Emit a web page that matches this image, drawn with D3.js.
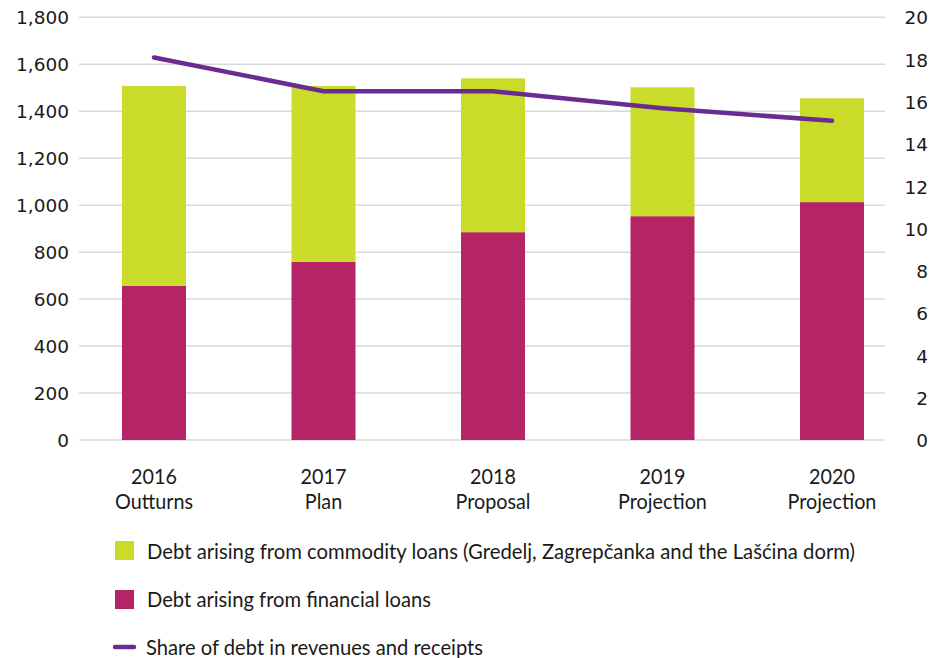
<!DOCTYPE html>
<html><head><meta charset="utf-8">
<script src="https://cdn.jsdelivr.net/npm/d3@7"></script>
<style>body{margin:0;background:#fff}svg{display:block}</style>
</head><body>
<svg id="c" width="935" height="658"></svg>
<script>
const years = ["2016","2017","2018","2019","2020"];
const phases = ["Outturns","Plan","Proposal","Projection","Projection"];
const financial = [657, 759, 885, 953, 1013];
const commodity = [851, 749, 655, 549, 442];
const share = [18.1, 16.5, 16.5, 15.7, 15.1];
const leftTicks = [0,200,400,600,800,1000,1200,1400,1600,1800];
const rightTicks = [0,2,4,6,8,10,12,14,16,18,20];
const legendLabels = [
  "Debt arising from commodity loans (Gredelj, Zagrepčanka and the Lašćina dorm)",
  "Debt arising from financial loans",
  "Share of debt in revenues and receipts"
];
const colors = {commodity:"#cbdb2a", financial:"#b52466", line:"#6a2c90", grid:"#d9d9d9", text:"#1a1a1a"};

const svg = d3.select("#c");
const x = d3.scaleBand().domain(years).range([69.25, 916.75]).paddingInner(0.6224).paddingOuter(0.3112);
const yL = d3.scaleLinear().domain([0,1800]).range([440, 17.3]);
const yR = d3.scaleLinear().domain([0,20]).range([440, 17.3]);

// gridlines
svg.append("g").selectAll("line").data(leftTicks).join("line")
  .attr("x1",79).attr("x2",885).attr("y1",d=>yL(d)).attr("y2",d=>yL(d))
  .attr("stroke",colors.grid).attr("stroke-width",1.5);

// left axis
const axL = svg.append("g").attr("transform","translate(69,0)")
  .call(d3.axisLeft(yL).tickValues(leftTicks).tickSize(0).tickPadding(0).tickFormat(d3.format(",")));
axL.select(".domain").remove();
axL.selectAll("text").attr("font-family","DejaVu Sans").attr("font-size",18.5).attr("fill",colors.text).attr("dy","0.36em");

// right axis
const axR = svg.append("g").attr("transform","translate(928,0)")
  .call(d3.axisLeft(yR).tickValues(rightTicks).tickSize(0).tickPadding(0));
axR.select(".domain").remove();
axR.selectAll("text").attr("font-family","DejaVu Sans").attr("font-size",18.5).attr("fill",colors.text).attr("dy","0.36em");

// stacked bars
const rows = years.map((y,i)=>({year:y, financial:financial[i], commodity:commodity[i]}));
const stack = d3.stack().keys(["financial","commodity"])(rows);
svg.append("g").selectAll("g").data(stack).join("g")
  .attr("fill",d=>colors[d.key])
  .selectAll("rect").data(d=>d).join("rect")
  .attr("x",d=>x(d.data.year)).attr("width",x.bandwidth())
  .attr("y",d=>yL(d[1])).attr("height",d=>yL(d[0])-yL(d[1]));

// line
const line = d3.line().x((d,i)=>x(years[i])+x.bandwidth()/2).y(d=>yR(d));
svg.append("path").datum(share).attr("d",line).attr("fill","none")
  .attr("stroke",colors.line).attr("stroke-width",4.5).attr("stroke-linecap","round").attr("stroke-linejoin","round");

// x labels
const lab = svg.append("g").attr("font-family","Lato").attr("font-size",22).attr("fill",colors.text);
years.forEach((y,i)=>{
  const g = lab.append("g").attr("transform",`translate(${x(y)+x.bandwidth()/2},0) scale(0.9,1)`);
  g.append("text").attr("text-anchor","middle").attr("y",484).text(y);
  g.append("text").attr("text-anchor","middle").attr("y",509).text(phases[i]);
});

// legend
const lg = svg.append("g").attr("font-family","Lato").attr("font-size",21).attr("fill",colors.text);
lg.append("rect").attr("x",115).attr("y",541).attr("width",19).attr("height",19).attr("fill",colors.commodity);
lg.append("rect").attr("x",115).attr("y",590).attr("width",19).attr("height",19).attr("fill",colors.financial);
lg.append("line").attr("x1",115).attr("x2",134).attr("y1",647).attr("y2",647).attr("stroke",colors.line).attr("stroke-width",4.5).attr("stroke-linecap","round");
const targetW = [708, 284, 337];
const ys = [559, 607, 655];
const xs = [147, 147, 146];
legendLabels.forEach((t,i)=>{
  const el = lg.append("text").attr("x",xs[i]).attr("y",ys[i]).text(t);
  el.attr("textLength",targetW[i]).attr("lengthAdjust","spacingAndGlyphs");
});
</script>
</body></html>
